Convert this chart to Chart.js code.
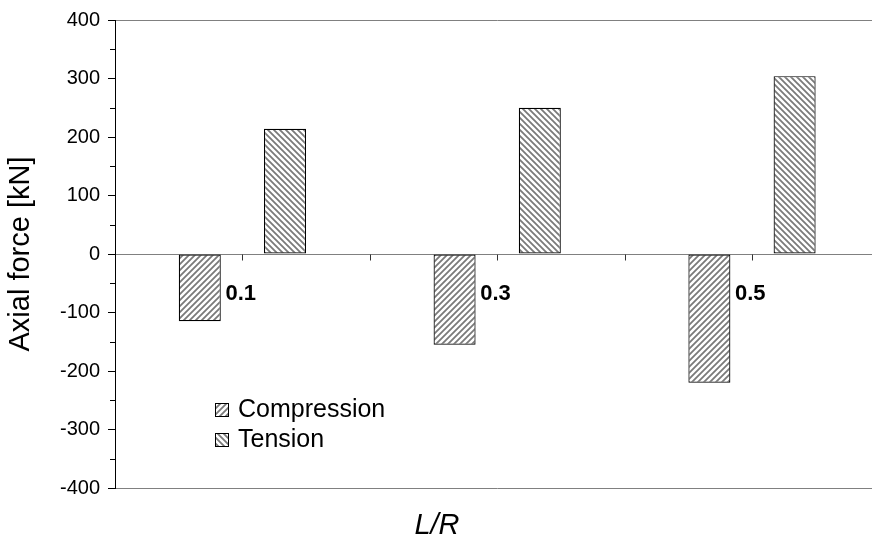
<!DOCTYPE html>
<html>
<head>
<meta charset="utf-8">
<script src="https://cdn.jsdelivr.net/npm/chart.js@4/dist/chart.umd.min.js"></script>
<style>
  html, body { margin: 0; padding: 0; background: #fff; overflow: hidden; width: 872px; height: 543px; }
  #wrap { width: 890px; height: 543px; position: relative; }
</style>
</head>
<body>
<div id="wrap"><canvas id="c" width="890" height="543"></canvas></div>
<script>
// L/R ratios and axial forces [kN]
const ratios = ['0.1', '0.3', '0.5'];
const compression = [-115, -155, -220];
const tension = [214, 250, 304];
const seriesNames = ['Compression', 'Tension'];
const yMin = -400, yMax = 400, yStep = 100, yMinorStep = 50;

const FONT = '"Liberation Sans", Arial, Helvetica, sans-serif';
const canvas = document.getElementById('c');
const ctx2d = canvas.getContext('2d');

// Diagonal hatch fill: '/' or '\'
function hatch(dir) {
  const s = 6;
  const t = document.createElement('canvas');
  t.width = s; t.height = s;
  const g = t.getContext('2d');
  g.fillStyle = '#ffffff';
  g.fillRect(0, 0, s, s);
  g.strokeStyle = '#7a7a7a';
  g.lineWidth = 1.8;
  g.beginPath();
  if (dir === '/') {
    g.moveTo(-1, s + 1); g.lineTo(s + 1, -1);
    g.moveTo(-1, 1); g.lineTo(1, -1);
    g.moveTo(s - 1, s + 1); g.lineTo(s + 1, s - 1);
  } else {
    g.moveTo(-1, -1); g.lineTo(s + 1, s + 1);
    g.moveTo(s - 1, -1); g.lineTo(s + 1, 1);
    g.moveTo(-1, s - 1); g.lineTo(1, s + 1);
  }
  g.stroke();
  return ctx2d.createPattern(t, 'repeat');
}
const fills = [hatch('/'), hatch('\\')];

// Plot frame, zero line, minor ticks, ratio labels, legend and x title
const decorations = {
  id: 'decorations',
  beforeDatasetsDraw(chart) {
    const { ctx, chartArea: a, scales: { x, y } } = chart;
    ctx.save();
    ctx.lineWidth = 1;
    ctx.strokeStyle = '#808080';
    const top = Math.round(a.top) + 0.5;
    const bot = Math.round(a.bottom) + 0.5;
    const y0 = Math.round(y.getPixelForValue(0)) + 0.5;
    ctx.beginPath();
    ctx.moveTo(a.left + 1, top); ctx.lineTo(a.right, top);
    ctx.moveTo(a.left + 1, bot); ctx.lineTo(a.right, bot);
    ctx.moveTo(a.left + 1, y0); ctx.lineTo(a.right, y0);
    ctx.stroke();
    // category tick marks below the zero line (centres and boundaries)
    ctx.strokeStyle = '#333';
    ctx.beginPath();
    for (let i = 0; i < ratios.length; i++) {
      const c = Math.round(x.getPixelForValue(i)) + 0.5;
      ctx.moveTo(c, y0); ctx.lineTo(c, y0 + 6);
      if (i < ratios.length - 1) {
        const b = Math.round((x.getPixelForValue(i) + x.getPixelForValue(i + 1)) / 2) + 0.5;
        ctx.moveTo(b, y0); ctx.lineTo(b, y0 + 6);
      }
    }
    ctx.stroke();
    // minor ticks on the value axis
    ctx.strokeStyle = '#000';
    ctx.beginPath();
    for (let v = yMin + yMinorStep; v < yMax; v += yStep) {
      const py = Math.round(y.getPixelForValue(v)) + 0.5;
      ctx.moveTo(a.left - 5, py); ctx.lineTo(a.left, py);
    }
    ctx.stroke();
    ctx.restore();
  },
  afterDatasetsDraw(chart) {
    const { ctx, scales: { x, y } } = chart;
    ctx.save();
    // ratio labels beside each compression bar
    ctx.fillStyle = '#000';
    ctx.font = 'bold 22px ' + FONT;
    ctx.textAlign = 'left';
    ctx.textBaseline = 'middle';
    const y0 = y.getPixelForValue(0);
    ratios.forEach((r, i) => {
      ctx.fillText(r, x.getPixelForValue(i) - 17, y0 + 40);
    });
    // legend
    const lx = 215, ly = [409, 439], box = 13;
    ctx.font = '25px ' + FONT;
    chart.data.datasets.forEach((ds, i) => {
      const by = Math.round(ly[i] - box / 2) + 0.5;
      ctx.fillStyle = ds.backgroundColor;
      ctx.fillRect(lx + 0.5, by, box, box);
      ctx.strokeStyle = '#000';
      ctx.lineWidth = 1;
      ctx.strokeRect(lx + 0.5, by, box, box);
      ctx.fillStyle = '#000';
      ctx.fillText(ds.label, lx + 23, ly[i] + 1);
    });
    // category axis title
    ctx.font = 'italic 29px ' + FONT;
    ctx.textAlign = 'center';
    ctx.fillText('L/R', 437, 526);
    ctx.restore();
  }
};

new Chart(canvas, {
  type: 'bar',
  data: {
    labels: ratios,
    datasets: [
      { label: seriesNames[0], data: compression, backgroundColor: fills[0] },
      { label: seriesNames[1], data: tension, backgroundColor: fills[1] }
    ]
  },
  options: {
    responsive: false,
    animation: false,
    events: [],
    layout: { padding: { top: 17, right: 10.6, bottom: 55, left: 0 } },
    datasets: {
      bar: {
        borderColor: '#000',
        borderWidth: 1.2,
        borderSkipped: false,
        categoryPercentage: 0.669,
        barPercentage: 0.493
      }
    },
    plugins: {
      legend: { display: false },
      tooltip: { enabled: false },
      title: { display: false }
    },
    scales: {
      x: { display: false },
      y: {
        min: yMin,
        max: yMax,
        afterFit(s) { s.width = 115; },
        ticks: {
          stepSize: yStep,
          color: '#000',
          padding: 8,
          font: { family: FONT, size: 20 }
        },
        grid: {
          drawOnChartArea: false,
          drawTicks: true,
          tickLength: 7,
          color: '#000'
        },
        border: { display: true, color: '#000', width: 1 },
        title: {
          display: true,
          text: 'Axial force [kN]',
          color: '#000',
          font: { family: FONT, size: 29 },
          padding: { top: 4, bottom: 0 }
        }
      }
    }
  },
  plugins: [decorations]
});
</script>
</body>
</html>
